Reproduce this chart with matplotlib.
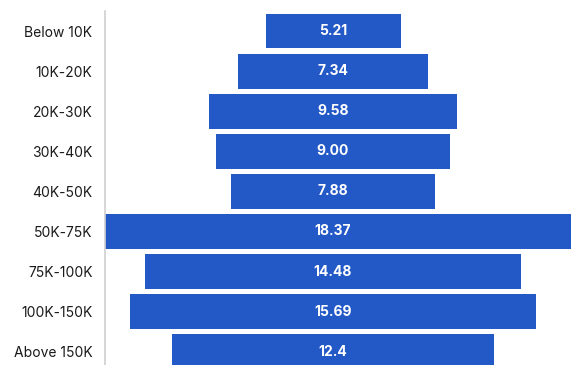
import matplotlib
matplotlib.use("Agg")
import matplotlib.pyplot as plt
import numpy as np

# income bands, top to bottom
categories = ["Below 10K", "10K-20K", "20K-30K", "30K-40K", "40K-50K",
              "50K-75K", "75K-100K", "100K-150K", "Above 150K"]
values = [5.21, 7.34, 9.58, 9.00, 7.88, 18.37, 14.48, 15.69, 12.4]
value_labels = ["5.21", "7.34", "9.58", "9.00", "7.88", "18.37", "14.48", "15.69", "12.4"]

BAR_COLOR = "#2358C7"

plt.rcParams["font.family"] = ["Inter", "DejaVu Sans"]

fig = plt.figure(figsize=(5.74, 3.65), dpi=100)
ax = fig.add_axes([105 / 574, 0.0, 1 - 105 / 574, (365 - 11) / 365])

y = np.arange(len(categories))
v = np.array(values)
# centred funnel bars
ax.barh(y, v, left=-v / 2, height=0.87, color=BAR_COLOR, edgecolor="none")

for yi, lab in zip(y, value_labels):
    ax.text(0, yi, lab, ha="center", va="center", color="white",
            fontsize=10, fontweight="bold")

ax.set_xlim(-8.8, 9.3)
ax.set_ylim(8.33, -0.5)
ax.set_yticks(y)
ax.set_yticklabels(categories, fontsize=10, color="#1A1A1A")
ax.tick_params(axis="y", length=0, pad=9)
ax.set_xticks([])
for s in ("top", "right", "bottom"):
    ax.spines[s].set_visible(False)
ax.spines["left"].set_color("#D0D0D0")
ax.spines["left"].set_linewidth(1.2)

fig.savefig("out.png", dpi=100)
